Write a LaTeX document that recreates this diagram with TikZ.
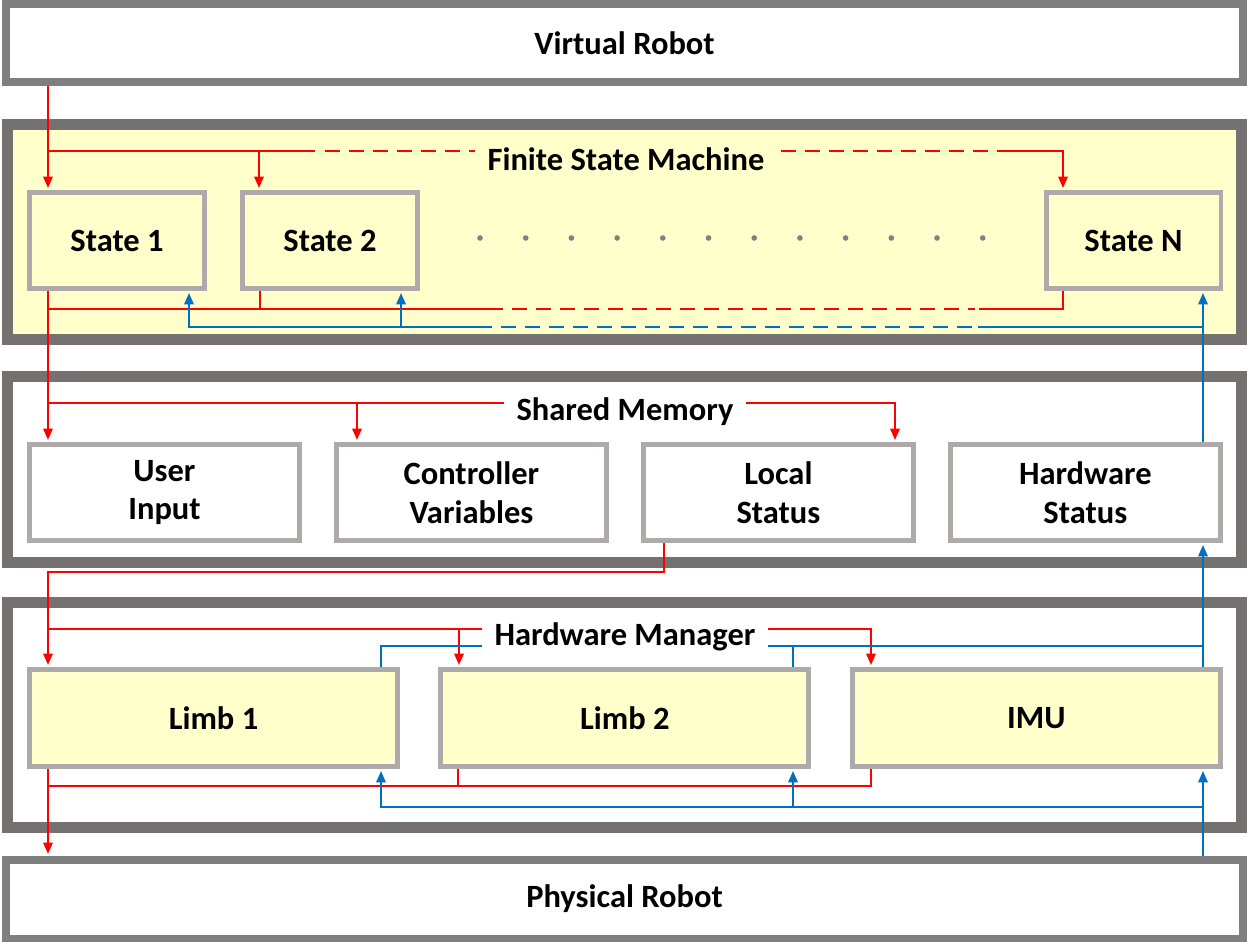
\documentclass[tikz,border=0pt]{standalone}
\usepackage{fontspec}
\setmainfont{Carlito}
\usetikzlibrary{arrows.meta,positioning}
\definecolor{Cream}{HTML}{FFFFCC}
\definecolor{FrameGray}{HTML}{7F7F7F}
\definecolor{PanelGray}{HTML}{767171}
\definecolor{BoxGray}{HTML}{AEAAAA}
\definecolor{CtrlRed}{HTML}{FF0000}
\definecolor{FbBlue}{HTML}{0070C0}
\definecolor{DotGray}{HTML}{808080}
\tikzset{
  robotbox/.style={
    draw=FrameGray, line width=1.5mm, fill=white,
    minimum width=24.75cm, minimum height=1.57cm, inner sep=0pt
  },
  panel/.style={
    draw=PanelGray, line width=2.2mm,
    minimum width=24.68cm, inner sep=0pt
  },
  statebox/.style={
    draw=BoxGray, line width=1mm, fill=Cream,
    minimum width=3.5cm, minimum height=1.92cm, align=center
  },
  membox/.style={
    draw=BoxGray, line width=1mm, fill=white,
    minimum width=5.4cm, minimum height=1.92cm, align=center
  },
  limbbox/.style={
    draw=BoxGray, line width=1mm, fill=Cream,
    minimum width=7.36cm, minimum height=1.94cm
  },
  paneltitle/.style={anchor=base, inner xsep=0.26cm, inner ysep=2pt},
  ctrlline/.style={draw=CtrlRed, line width=0.4mm},
  ctrlflow/.style={ctrlline, -{Triangle[length=2.3mm,width=1.9mm]}, shorten >=0.4mm},
  fbline/.style={draw=FbBlue, line width=0.4mm},
  fbflow/.style={fbline, -{Triangle[length=2.3mm,width=1.9mm]}, shorten >=0.4mm},
  gapdash/.style={dash pattern=on 0.3cm off 0.18cm}
}
\begin{document}
\begin{tikzpicture}[x=0.02cm,y=-0.02cm,node distance=0.64cm,
    font=\fontsize{18.5}{22}\selectfont\bfseries]
  \useasboundingbox (0,0) rectangle (1247,942);
  \node[panel,fill=Cream,minimum height=4.3cm] (fsm) at (624.5,232) {};
  \node[panel,fill=white,minimum height=3.72cm] (shm) at (624.5,469.5) {};
  \node[panel,fill=white,minimum height=4.5cm] (hwm) at (624.5,715) {};
  \node[robotbox] (vr) at (624.5,43) {Virtual Robot};
  \node[robotbox] (pr) at (624.5,899) {Physical Robot};

  \node[statebox] (s1) at (117,240.5) {State 1};
  \node[statebox,right=0.66cm of s1] (s2) {State 2};
  \node[statebox] (sN) at (1133.5,240.5) {State N};
  \foreach \k in {0,...,11}
    \fill[DotGray] (480+45.7*\k,238) circle[radius=1.6pt];

  \node[membox] (ui) at (164.5,492.5) {User\\Input};
  \node[membox,right=of ui] (cv) {Controller\\Variables};
  \node[membox,right=of cv] (ls) {Local\\Status};
  \node[membox,right=of ls] (hs) {Hardware\\Status};

  \node[limbbox] (l1) at (213.5,718) {Limb 1};
  \node[limbbox,right=0.77cm of l1] (l2) {Limb 2};
  \node[limbbox,right=0.77cm of l2] (imu) {IMU};

  % commands going down
  \coordinate (r0) at (48,151);
  \coordinate (r2) at (259,151);
  \coordinate (rN) at (1063,151);
  \coordinate (ra) at (315,151);
  \coordinate (rb) at (325,151);
  \coordinate (rc) at (990,151);
  \coordinate (rd) at (997,151);
  \draw[ctrlflow] (vr.south -| r0) -- (r0 |- s1.north);
  \draw[ctrlline] (r0) -- (ra);
  \draw[ctrlline,gapdash] (rb) -- (rc);
  \draw[ctrlflow] (rd) -- (rN) -- (rN |- sN.north);
  \draw[ctrlflow] (r2) -- (r2 |- s2.north);

  \coordinate (q0) at (48,309);
  \coordinate (q2) at (260,309);
  \coordinate (qN) at (1063,309);
  \coordinate (qa) at (488,309);
  \coordinate (qb) at (975,309);
  \coordinate (qc) at (979,309);
  \draw[ctrlline] (s1.south -| q0) -- (q0) -- (qa);
  \draw[ctrlline,gapdash] (qa) -- (qb);
  \draw[ctrlline] (sN.south -| qN) -- (qN) -- (qc);
  \draw[ctrlline] (s2.south -| q2) -- (q2);

  \coordinate (m0) at (48,403);
  \coordinate (m1) at (357,403);
  \coordinate (mL) at (895,403);
  \draw[ctrlflow] (q0) -- (q0 |- ui.north);
  \draw[ctrlflow] (m0) -- (mL) -- (mL |- ls.north);
  \draw[ctrlflow] (m1) -- (m1 |- cv.north);

  \coordinate (k0) at (664,572);
  \coordinate (k1) at (48,572);
  \coordinate (h0) at (48,629);
  \coordinate (h2) at (459,629);
  \coordinate (hI) at (871,629);
  \draw[ctrlflow] (ls.south -| k0) -- (k0) -- (k1) -- (k1 |- l1.north);
  \draw[ctrlflow] (h0) -- (hI) -- (hI |- imu.north);
  \draw[ctrlflow] (h2) -- (h2 |- l2.north);

  \coordinate (g0) at (48,786);
  \coordinate (g2) at (458,786);
  \coordinate (gI) at (871,786);
  \draw[ctrlflow] (l1.south -| g0) -- (g0 |- pr.north);
  \draw[ctrlline] (l2.south -| g2) -- (g2);
  \draw[ctrlline] (imu.south -| gI) -- (gI) -- (g0);

  % feedback going up
  \coordinate (b0) at (1203,807);
  \coordinate (b1) at (381,807);
  \coordinate (b2) at (793,807);
  \draw[fbflow] (pr.north -| b0) -- (b0 |- imu.south);
  \draw[fbflow] (b0) -- (b1) -- (b1 |- l1.south);
  \draw[fbflow] (b2) -- (b2 |- l2.south);

  \coordinate (c0) at (1203,646);
  \coordinate (c1) at (381,646);
  \coordinate (c2) at (793,646);
  \draw[fbflow] (imu.north -| c0) -- (c0 |- hs.south);
  \draw[fbline] (l1.north -| c1) -- (c1) -- (c0);
  \draw[fbline] (l2.north -| c2) -- (c2);

  \coordinate (u0) at (1203,327);
  \coordinate (u1) at (189,327);
  \coordinate (u2) at (401,327);
  \coordinate (ua) at (978,327);
  \coordinate (ub) at (972,327);
  \coordinate (uc) at (488,327);
  \draw[fbflow] (hs.north -| u0) -- (u0 |- sN.south);
  \draw[fbline] (u0) -- (ua);
  \draw[fbline,gapdash] (ub) -- (uc);
  \draw[fbflow] (uc) -- (u1) -- (u1 |- s1.south);
  \draw[fbflow] (u2) -- (u2 |- s2.south);

  \node[paneltitle,fill=Cream] (fsmt) at (626,171) {Finite State Machine};
  \node[paneltitle,fill=white] (shmt) at (625,420) {Shared Memory};
  \node[paneltitle,fill=white] (hwmt) at (625,645) {Hardware Manager};
\end{tikzpicture}
\end{document}
